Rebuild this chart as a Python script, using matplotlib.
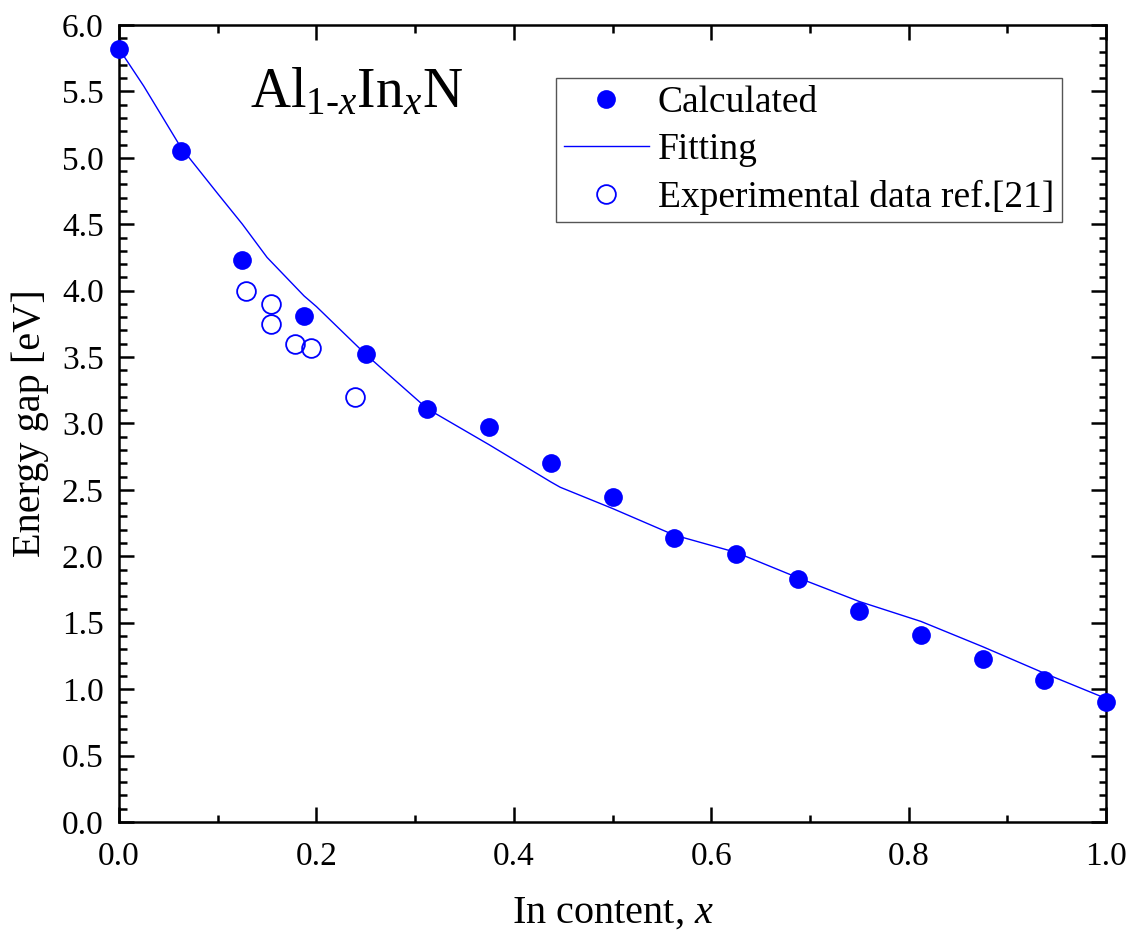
import matplotlib
matplotlib.use("Agg")
import matplotlib.pyplot as plt
from matplotlib.ticker import MultipleLocator

plt.rcParams["font.family"] = ["Liberation Serif", "DejaVu Serif"]
plt.rcParams["mathtext.fontset"] = "custom"
plt.rcParams["mathtext.rm"] = "Liberation Serif"
plt.rcParams["mathtext.it"] = "Liberation Serif:italic"

# Calculated band gaps of Al(1-x)In(x)N at x = k/16
calc_x = [0.0, 0.0625, 0.125, 0.1875, 0.25, 0.3125, 0.375, 0.4375, 0.5,
          0.5625, 0.625, 0.6875, 0.75, 0.8125, 0.875, 0.9375, 1.0]
calc_e = [5.82, 5.05, 4.23, 3.81, 3.52, 3.11, 2.97, 2.70, 2.45,
          2.14, 2.02, 1.83, 1.59, 1.41, 1.23, 1.07, 0.90]

# Fitted curve
fit_x = [0.0, 0.025, 0.0625, 0.1, 0.125, 0.15, 0.1875, 0.2, 0.25, 0.3125,
         0.375, 0.4375, 0.447, 0.5, 0.5625, 0.625, 0.6875, 0.75,
         0.8125, 0.875, 0.9375, 1.0]
fit_e = [5.82, 5.54, 5.08, 4.73, 4.50, 4.25, 3.96, 3.88, 3.52, 3.11,
         2.84, 2.56, 2.52, 2.36, 2.16, 2.03, 1.84, 1.66,
         1.51, 1.32, 1.12, 0.93]

# Experimental data, ref. [21]
exp_x = [0.129, 0.154, 0.154, 0.178, 0.194, 0.239]
exp_e = [4.00, 3.90, 3.75, 3.60, 3.57, 3.20]

blue = "#0000ff"

fig = plt.figure(figsize=(11.37, 9.42), dpi=100)
ax = fig.add_axes([0.1047, 0.1274, 0.868, 0.8461])

ax.plot(calc_x, calc_e, "o", color=blue, ms=13.5, mec=blue, mew=0,
        label="Calculated", clip_on=False, zorder=3)
ax.plot(fit_x, fit_e, "-", color=blue, lw=1.0, label="Fitting", zorder=2)
ax.plot(exp_x, exp_e, "o", mfc="none", mec=blue, ms=13.5, mew=1.3,
        label="Experimental data ref.[21]", zorder=3)

ax.set_xlim(0, 1.0)
ax.set_ylim(0, 6.0)
ax.xaxis.set_major_locator(MultipleLocator(0.2))
ax.xaxis.set_minor_locator(MultipleLocator(0.1))
ax.yaxis.set_major_locator(MultipleLocator(0.5))
ax.yaxis.set_minor_locator(MultipleLocator(0.1))
ax.xaxis.set_major_formatter(plt.FuncFormatter(lambda v, p: f"{v:.1f}"))
ax.yaxis.set_major_formatter(plt.FuncFormatter(lambda v, p: f"{v:.1f}"))

ax.tick_params(which="both", direction="in", top=True, right=True,
               width=1.8, labelsize=24)
ax.tick_params(which="major", length=11)
ax.tick_params(which="minor", length=5.4)
ax.tick_params(axis="x", which="major", pad=14)
ax.tick_params(axis="y", which="major", pad=11)
for s in ax.spines.values():
    s.set_linewidth(1.8)

ax.set_xlabel("In content, $x$", fontsize=29, labelpad=16)
ax.set_ylabel("Energy gap [eV]", fontsize=29, labelpad=9)

ax.text(0.133, 0.897, r"Al$_{\mathrm{1}\text{-}x}$In$_{x}$N",
        transform=ax.transAxes, fontsize=40, va="baseline", ha="left")

leg = ax.legend(loc="upper right", bbox_to_anchor=(0.955, 0.933),
                fontsize=27, frameon=True, fancybox=False, framealpha=1,
                edgecolor="#555555", handlelength=2.27, handletextpad=0.24,
                borderpad=0.2, labelspacing=0.33, borderaxespad=0)
leg.get_frame().set_linewidth(1.0)

fig.savefig("out.png", dpi=100)
